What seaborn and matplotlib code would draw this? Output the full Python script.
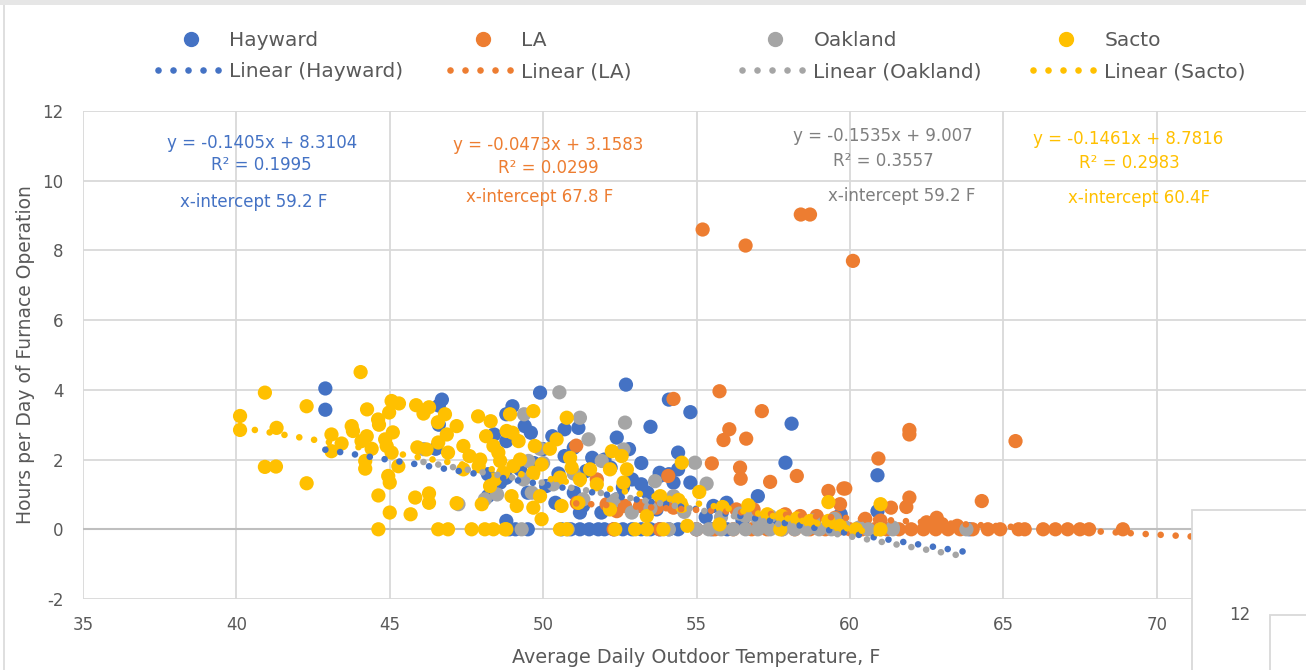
import matplotlib
matplotlib.use("Agg")
import matplotlib.pyplot as plt
from matplotlib.lines import Line2D
from matplotlib.patches import Rectangle
import numpy as np
import pandas as pd
import seaborn as sns

cities = ["Hayward", "LA", "Oakland", "Sacto"]
colors = ["#4472C4", "#ED7D31", "#A5A5A5", "#FFC000"]
text_colors = ["#4472C4", "#ED7D31", "#7F7F7F", "#FFC000"]

hayward_x = [42.9, 42.9, 46.7, 46.6, 46.6, 46.5, 48.4, 48.8, 48.8, 48.4, 48.2, 48.8,
             49.9, 52.7, 49.0, 49.4, 49.6, 54.1, 53.5, 52.4, 51.15, 50.7, 50.3, 51.0,
             51.6, 52.0, 50.7, 54.4, 51.4, 52.2, 52.9, 53.8, 54.25, 51.0, 51.3, 50.1,
             49.5, 48.8, 49.25, 51.9, 53.4, 53.7, 54.0, 53.8, 54.1, 54.8, 53.2, 52.4,
             51.2, 50.4, 48.6, 48.2, 55.55, 55.98, 54.8, 58.1, 57.9, 57.0, 54.4, 55.97,
             57.7, 60.9, 60.9, 50.0, 49.7, 50.5, 52.8, 53.2, 52.6, 55.3, 56.5, 58.5,
             59.7, 48.9, 49.1, 49.5, 50.6, 50.9, 51.2, 51.5, 51.8, 52.0, 52.3, 52.6,
             52.9, 53.2, 53.5, 53.8, 54.1, 54.4, 55.0, 55.5, 56.0, 63.9]
hayward_y = [4.04, 3.43, 3.72, 3.55, 3.0, 2.31, 2.72, 2.53, 3.3, 1.15, 0.95, 0.24,
             3.92, 4.15, 3.53, 2.96, 2.77, 3.72, 2.94, 2.63, 2.91, 2.87, 2.67, 2.34,
             2.05, 2.0, 2.1, 2.2, 1.67, 1.77, 1.43, 1.53, 1.34, 1.05, 0.67, 1.24,
             1.05, 1.48, 1.72, 0.48, 1.05, 0.57, 0.76, 1.62, 1.58, 1.34, 1.29, 0.86,
             0.48, 0.76, 1.34, 1.58, 0.67, 0.76, 3.36, 3.03, 1.91, 0.95, 1.72, 0.69,
             0.24, 1.55, 0.52, 2.3, 1.9, 1.6, 2.3, 1.9, 1.2, 0.35, 0.25, 0.15,
             0.43, 0.0, 0.0, 0.0, 0.0, 0.0, 0.0, 0.0, 0.0, 0.0, 0.0, 0.0,
             0.0, 0.0, 0.0, 0.0, 0.0, 0.0, 0.0, 0.0, 0.0, 0.0]

la_x = [55.2, 56.6, 58.4, 58.7, 60.1, 54.25, 55.75, 57.13, 56.07, 55.88, 56.62, 55.5,
        56.42, 56.44, 57.4, 58.27, 59.3, 59.79, 59.68, 51.08, 54.08, 51.1, 52.07, 52.4,
        52.67, 53.16, 53.7, 54.25, 51.75, 56.3, 56.86, 57.89, 58.38, 58.92, 59.52, 61.94,
        61.94, 60.93, 65.4, 59.85, 61.94, 61.84, 61.34, 64.3, 62.83, 62.5, 63.0, 63.5,
        60.5, 61.0, 52.3, 53.8, 55.0, 55.6, 56.2, 56.8, 57.3, 57.8, 58.2, 58.7,
        59.2, 59.6, 60.0, 60.4, 60.8, 61.2, 61.6, 62.0, 62.4, 62.8, 63.2, 63.6,
        64.0, 64.5, 64.9, 65.5, 65.7, 66.3, 66.7, 67.1, 67.5, 67.8, 68.9, 72.5, 74.0]
la_y = [8.6, 8.14, 9.03, 9.03, 7.7, 3.74, 3.96, 3.39, 2.87, 2.56, 2.6, 1.89,
        1.77, 1.45, 1.36, 1.53, 1.1, 1.17, 0.72, 2.4, 1.53, 0.76, 0.72, 0.52,
        0.67, 0.67, 0.62, 0.62, 1.43, 0.57, 0.57, 0.43, 0.38, 0.38, 0.33, 2.85,
        2.72, 2.03, 2.53, 1.17, 0.91, 0.64, 0.62, 0.81, 0.33, 0.2, 0.15, 0.1,
        0.3, 0.25, 0.0, 0.0, 0.0, 0.0, 0.0, 0.0, 0.0, 0.0, 0.0, 0.0,
        0.0, 0.0, 0.0, 0.0, 0.0, 0.0, 0.0, 0.0, 0.0, 0.0, 0.0, 0.0,
        0.0, 0.0, 0.0, 0.0, 0.0, 0.0, 0.0, 0.0, 0.0, 0.0, 0.0, 0.0, 0.0]

oakland_x = [50.53, 49.38, 51.2, 52.67, 51.48, 49.9, 52.62, 51.91, 49.52, 53.65, 54.25, 49.63,
             51.31, 52.89, 52.29, 49.36, 50.33, 54.95, 55.33, 59.79, 48.1, 47.24, 46.1,
             55.8, 56.4, 57.2, 58.0, 58.8, 59.5, 53.5, 54.6, 51.0, 50.0, 48.5,
             56.6, 57.0, 57.4, 58.9, 60.3, 61.4,
             49.3, 50.8, 54.1, 55.0, 55.4, 55.8, 56.2, 56.6, 57.0, 57.4, 57.8, 58.2,
             58.6, 59.0, 59.4, 60.2, 60.6, 61.0, 61.4, 63.8]
oakland_y = [3.93, 3.3, 3.2, 3.06, 2.58, 2.31, 2.29, 1.96, 1.96, 1.38, 0.95, 1.05,
             0.86, 0.48, 0.81, 1.43, 1.29, 1.91, 1.31, 0.1, 0.86, 0.72, 2.3,
             0.35, 0.45, 0.3, 0.2, 0.25, 0.3, 0.6, 0.5, 1.6, 1.9, 1.0,
             0.38, 0.29, 0.38, 0.05, 0.05, 0.05,
             0.0, 0.0, 0.0, 0.0, 0.0, 0.0, 0.0, 0.0, 0.0, 0.0, 0.0, 0.0,
             0.0, 0.0, 0.0, 0.0, 0.0, 0.0, 0.0, 0.0]

sacto_x = [40.12, 40.12, 40.93, 40.93, 41.29, 41.31, 42.29, 42.29, 44.05, 43.1, 43.1,
           45.06, 45.3, 44.26, 44.98, 45.86, 46.28, 46.1, 44.62, 44.65, 43.76, 43.8,
           46.57, 46.8, 47.18, 47.88, 48.29, 45.1, 44.25, 44.08, 44.85, 43.43, 44.41,
           44.9, 45.06, 45.9, 46.2, 46.58, 46.86, 46.9, 47.4, 47.6, 47.95, 48.14,
           48.38, 48.54, 48.6, 47.9, 47.4, 44.2, 44.2, 45.28, 44.95, 45.0, 44.63,
           45.83, 46.28, 46.28, 47.18, 48.0, 48.27, 48.43, 45.0, 45.68, 44.63, 46.58,
           46.9, 47.67, 48.1, 48.38, 48.76,
           48.92, 49.68, 50.77, 48.81, 49.0, 49.2, 49.73, 50.44, 50.22, 50.88, 52.24,
           52.56, 49.25, 49.95, 49.03, 49.68, 48.7, 50.55, 50.93, 51.53, 52.18, 52.73,
           51.2, 51.75, 52.62, 48.97, 49.9, 50.6, 49.14, 49.68, 51.15, 52.18, 53.38,
           53.82, 54.52, 49.95, 48.8, 50.55, 50.77, 52.35, 53.0, 53.38, 53.92,
           54.52, 55.09, 59.3, 56.69, 55.75, 54.7, 57.73, 54.41, 59.3, 55.85, 57.31,
           57.78, 58.27, 58.7, 59.68, 61.0, 61.0, 60.2]
sacto_y = [3.25, 2.85, 3.92, 1.79, 1.8, 2.91, 3.53, 1.32, 4.51, 2.72, 2.24,
           3.68, 3.61, 3.44, 3.35, 3.56, 3.5, 3.32, 3.15, 3.0, 2.96, 2.82,
           3.07, 3.3, 2.96, 3.24, 3.1, 2.78, 2.67, 2.53, 2.58, 2.46, 2.31,
           2.39, 2.2, 2.35, 2.29, 2.49, 2.72, 2.2, 2.39, 2.1, 2.0, 2.67,
           2.39, 2.2, 1.96, 1.81, 1.72, 1.96, 1.74, 1.81, 1.53, 1.34, 0.97,
           0.91, 1.03, 0.76, 0.75, 0.72, 1.24, 1.43, 0.48, 0.43, 0.0, 0.0,
           0.0, 0.0, 0.0, 0.0, 0.0,
           3.3, 3.39, 3.2, 2.82, 2.77, 2.53, 2.39, 2.58, 2.31, 2.05, 2.24,
           2.1, 2.0, 1.86, 1.81, 1.62, 1.62, 1.48, 1.77, 1.72, 1.72, 1.72,
           1.43, 1.29, 1.34, 0.95, 0.95, 0.67, 0.67, 0.62, 0.76, 0.57, 0.38,
           0.95, 0.67, 0.29, 0.0, 0.0, 0.0, 0.0, 0.0, 0.0, 0.0,
           1.91, 1.07, 0.78, 0.69, 0.14, 0.1, 0.0, 0.84, 0.24, 0.64, 0.43,
           0.38, 0.31, 0.24, 0.1, 0.72, 0.0, 0.0]

# trendline coefficients as printed on the chart
slopes = [-0.1405, -0.0473, -0.1535, -0.1461]
intercepts = [8.3104, 3.1583, 9.007, 8.7816]
eq_labels = ["y = -0.1405x + 8.3104", "y = -0.0473x + 3.1583",
             "y = -0.1535x + 9.007", "y = -0.1461x + 8.7816"]
r2_labels = ["R² = 0.1995", "R² = 0.0299", "R² = 0.3557", "R² = 0.2983"]
xint_labels = ["x-intercept 59.2 F", "x-intercept 67.8 F",
               "x-intercept 59.2 F", "x-intercept 60.4F"]
label_pos = [
    [(40.84, 11.09), (40.80, 10.46), (40.58, 9.40)],
    [(50.16, 11.03), (50.16, 10.37), (49.90, 9.54)],
    [(61.08, 11.29), (61.08, 10.57), (61.70, 9.57)],
    [(69.07, 11.20), (69.11, 10.52), (69.43, 9.51)],
]
x_ticks = [35, 40, 45, 50, 55, 60, 65, 70, 75]
x_ticklabels = ["35", "40", "45", "50", "55", "60", "65", "70", ""]
y_ticks = [-2, 0, 2, 4, 6, 8, 10, 12]

xs_all = [hayward_x, la_x, oakland_x, sacto_x]
ys_all = [hayward_y, la_y, oakland_y, sacto_y]
df = pd.concat(
    [pd.DataFrame({"temp": x, "hours": y, "city": c}) for x, y, c in zip(xs_all, ys_all, cities)],
    ignore_index=True,
)

sns.set_theme(style="white")
plt.rcParams["font.family"] = ["DejaVu Sans"]

W, H = 1306, 670
fig = plt.figure(figsize=(W / 100, H / 100), dpi=100)
ax = fig.add_axes([83 / W, 71 / H, (1310 - 83) / W, (599 - 111) / H])

grid_c = "#D9D9D9"
txt_c = "#595959"

sns.scatterplot(data=df, x="temp", y="hours", hue="city", palette=dict(zip(cities, colors)),
                s=105, linewidth=0, alpha=1, legend=False, ax=ax, zorder=2)

dot_style = dict(linewidth=4.8, dashes=(0.001, 2.25), dash_capstyle="round", solid_capstyle="round")
line_handles = []
for x, c, m, b in zip(xs_all, colors, slopes, intercepts):
    tx = np.array([min(x), max(x)])
    (ln,) = ax.plot(tx, m * tx + b, color=c, zorder=3, **dot_style)
    line_handles.append(ln)

for (pos, c), eq, r2, xi in zip(zip(label_pos, text_colors), eq_labels, r2_labels, xint_labels):
    for (px, py), s in zip(pos, [eq, r2, xi]):
        ax.text(px, py, s, color=c, fontsize=12, ha="center", va="center", zorder=4)

ax.set_xlim(35, 75)
ax.set_ylim(-2, 12)
ax.set_xticks(x_ticks)
ax.set_xticklabels(x_ticklabels)
ax.set_yticks(y_ticks)
ax.set_yticklabels([str(v) for v in y_ticks])
ax.grid(True, color=grid_c, linewidth=1.3)
ax.set_axisbelow(True)
ax.axhline(0, color="#BFBFBF", linewidth=1.5, zorder=1)
for sp in ax.spines.values():
    sp.set_visible(False)
ax.tick_params(axis="both", length=0, labelsize=12, colors=txt_c)
ax.tick_params(axis="y", pad=14)
ax.tick_params(axis="x", pad=12)
ax.set_xlabel("Average Daily Outdoor Temperature, F", fontsize=13.8, color=txt_c, labelpad=10)
ax.set_ylabel("Hours per Day of Furnace Operation", fontsize=13.5, color=txt_c, labelpad=5)

# legend: one block per city, two rows each
col_left = [158, 450, 742, 1033]
for i, city in enumerate(cities):
    mk = Line2D([], [], linestyle="none", marker="o", markersize=10, color=colors[i])
    fig.legend([mk, line_handles[i]], [city, f"Linear ({city})"],
               loc="upper left", bbox_to_anchor=(col_left[i] / W, 1 - 31 / H),
               frameon=False, fontsize=14.5, handlelength=3.25, handletextpad=0.3,
               borderpad=0, borderaxespad=0, labelspacing=0.62, labelcolor=txt_c)

# window chrome / overlapping chart box seen in the screenshot
fig.patches.append(Rectangle((0, 1 - 5 / H), 1, 5 / H, transform=fig.transFigure,
                             facecolor="#E6E6E6", edgecolor="none", zorder=10))
fig.lines.append(Line2D([4 / W, 4 / W], [0, 1 - 5 / H], transform=fig.transFigure,
                        color=grid_c, linewidth=1.2, zorder=10))
fig.patches.append(Rectangle((1192 / W, -0.01), 0.2, (670 - 510) / H + 0.01,
                             transform=fig.transFigure, facecolor="white",
                             edgecolor=grid_c, linewidth=1.3, zorder=10))
fig.patches.append(Rectangle((1270 / W, -0.01), 0.2, (670 - 615) / H + 0.01,
                             transform=fig.transFigure, facecolor="white",
                             edgecolor=grid_c, linewidth=1.3, zorder=11))
fig.text(1240 / W, 1 - 615 / H, "12", fontsize=12, color=txt_c, ha="center", va="center", zorder=12)

fig.savefig("out.png", dpi=100)
